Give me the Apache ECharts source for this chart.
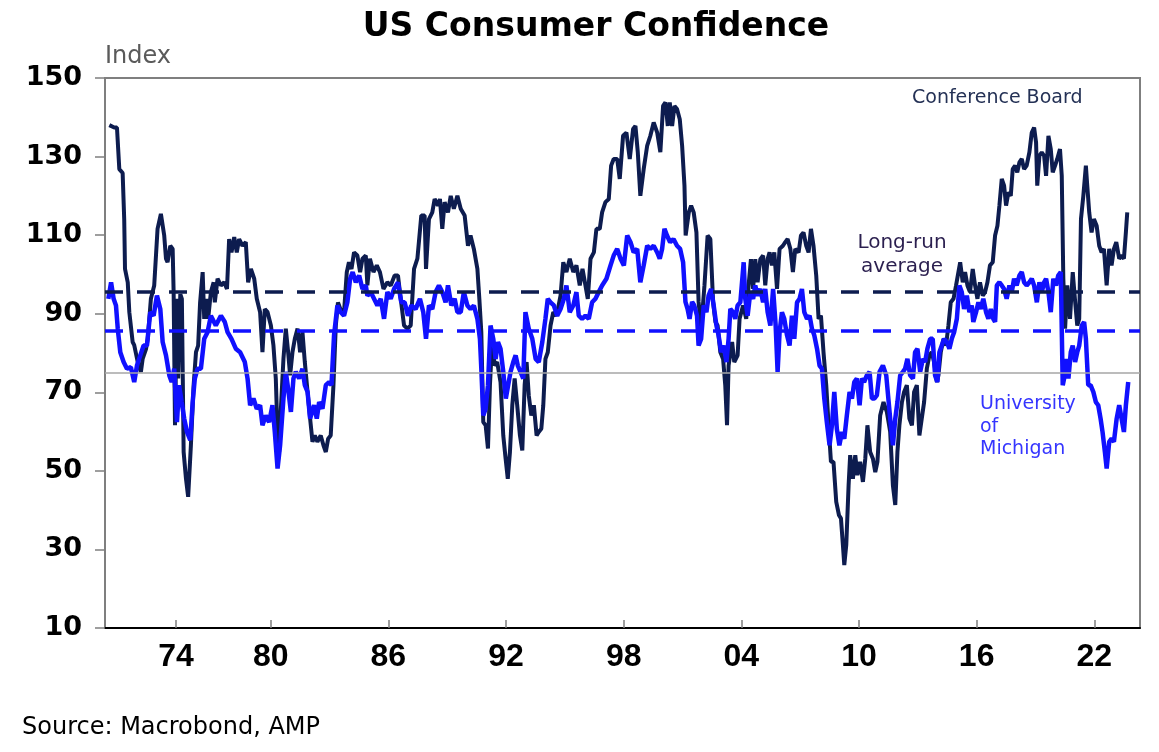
<!DOCTYPE html>
<html>
<head>
<meta charset="utf-8">
<title>US Consumer Confidence</title>
<script src="https://cdn.jsdelivr.net/npm/echarts@6/dist/echarts.min.js"></script>
<style>
  html, body { margin: 0; padding: 0; background: #fff; }
  #chart { width: 1159px; height: 752px; }
</style>
</head>
<body>
<div id="chart"></div>
<script>
// Conference Board index (decimal year, index)
var cbYears = [
  1971.77,1972.02,1972.16,1972.28,1972.45,1972.53,1972.57,1972.71,1972.79,1972.96,
  1973.04,1973.22,1973.38,1973.47,1973.64,1973.73,1973.89,1974.06,1974.23,1974.40,
  1974.57,1974.66,1974.74,1974.88,1975.00,1975.05,1975.12,1975.22,1975.28,1975.39,
  1975.47,1975.56,1975.68,1975.79,1975.93,1976.07,1976.19,1976.30,1976.40,1976.53,
  1976.61,1976.75,1976.81,1976.95,1977.09,1977.15,1977.29,1977.46,1977.63,1977.77,
  1977.88,1978.00,1978.14,1978.27,1978.39,1978.56,1978.73,1978.85,1978.99,1979.16,
  1979.29,1979.46,1979.58,1979.70,1979.84,1980.01,1980.14,1980.26,1980.35,1980.43,
  1980.52,1980.65,1980.77,1980.89,1980.99,1981.11,1981.23,1981.37,1981.50,1981.62,
  1981.74,1981.88,1982.01,1982.13,1982.25,1982.38,1982.55,1982.69,1982.81,1982.93,
  1983.06,1983.20,1983.32,1983.43,1983.61,1983.74,1983.88,1983.99,1984.12,1984.25,
  1984.42,1984.56,1984.68,1984.85,1984.93,1985.06,1985.24,1985.41,1985.57,1985.75,
  1985.95,1986.12,1986.32,1986.49,1986.63,1986.80,1986.97,1987.14,1987.31,1987.48,
  1987.68,1987.85,1987.92,1988.07,1988.24,1988.36,1988.53,1988.63,1988.75,1988.87,
  1989.04,1989.18,1989.34,1989.52,1989.69,1989.89,1990.06,1990.19,1990.36,1990.54,
  1990.64,1990.74,1990.84,1990.96,1991.08,1991.18,1991.30,1991.42,1991.55,1991.72,
  1991.86,1991.98,1992.09,1992.20,1992.32,1992.44,1992.57,1992.71,1992.83,1992.95,
  1993.05,1993.16,1993.29,1993.42,1993.56,1993.67,1993.80,1993.90,1994.01,1994.13,
  1994.27,1994.41,1994.58,1994.78,1994.92,1995.08,1995.25,1995.43,1995.59,1995.76,
  1995.90,1996.05,1996.17,1996.31,1996.48,1996.61,1996.78,1996.90,1997.07,1997.24,
  1997.36,1997.49,1997.67,1997.80,1997.97,1998.14,1998.31,1998.48,1998.60,1998.72,
  1998.85,1999.02,1999.20,1999.36,1999.53,1999.71,1999.87,2000.01,2000.13,2000.25,
  2000.35,2000.47,2000.59,2000.72,2000.86,2000.98,2001.10,2001.16,2001.32,2001.44,
  2001.57,2001.71,2001.82,2001.95,2002.12,2002.28,2002.42,2002.56,2002.68,2002.79,
  2002.93,2003.07,2003.18,2003.27,2003.35,2003.53,2003.64,2003.81,2003.91,2004.09,
  2004.25,2004.37,2004.49,2004.60,2004.71,2004.83,2004.97,2005.11,2005.22,2005.34,
  2005.44,2005.56,2005.68,2005.82,2005.95,2006.12,2006.24,2006.36,2006.50,2006.63,
  2006.75,2006.92,2007.04,2007.17,2007.31,2007.43,2007.55,2007.68,2007.82,2007.94,
  2008.06,2008.19,2008.33,2008.45,2008.57,2008.70,2008.84,2008.98,2009.08,2009.18,
  2009.25,2009.35,2009.47,2009.55,2009.69,2009.81,2009.92,2010.06,2010.20,2010.32,
  2010.43,2010.57,2010.71,2010.83,2010.94,2011.08,2011.25,2011.42,2011.59,2011.73,
  2011.85,2011.96,2012.06,2012.19,2012.30,2012.44,2012.57,2012.70,2012.81,2012.95,
  2013.08,2013.20,2013.32,2013.46,2013.59,2013.71,2013.83,2013.97,2014.05,2014.17,
  2014.31,2014.44,2014.56,2014.68,2014.82,2014.95,2015.07,2015.16,2015.29,2015.41,
  2015.53,2015.66,2015.80,2015.92,2016.04,2016.17,2016.31,2016.43,2016.55,2016.68,
  2016.82,2016.94,2017.06,2017.16,2017.28,2017.40,2017.50,2017.62,2017.74,2017.84,
  2017.96,2018.07,2018.18,2018.30,2018.42,2018.55,2018.69,2018.81,2018.93,2019.03,
  2019.09,2019.20,2019.32,2019.44,2019.54,2019.66,2019.78,2019.88,2020.00,2020.11,
  2020.25,2020.34,2020.42,2020.51,2020.62,2020.76,2020.90,2021.01,2021.13,2021.23,
  2021.32,2021.44,2021.57,2021.64,2021.74,2021.86,2021.98,2022.12,2022.25,2022.37,
  2022.49,2022.63,2022.76,2022.88,2023.00,2023.12,2023.27,2023.39,2023.51,2023.61,
  2023.68
];
var cbValues = [
  138,137.4,137.4,126.8,125.8,114,101.4,98,90.4,82.8,
  82,77.7,75.2,78.5,81,83.6,93.8,97.2,111.6,115.4,
  109.9,104,103.1,107.3,106.5,95.5,61.6,93.8,73.5,95,
  93.8,54.8,48,43.4,56.5,71.8,80.2,81.9,92.9,100.6,
  88.7,93.8,88.7,95.5,98,92.9,98.9,97.2,98,96.3,
  109,105.6,109.5,105.6,109,107.3,108.2,98,101.4,98.9,
  93.8,90.4,80.2,91.2,90.4,87,81.9,73.5,59,54.8,
  65.8,78.5,86.2,80.2,74.3,80.2,83.6,86.2,80.2,85.3,
  77.7,70.1,63.3,57.4,59,57.4,59,56.5,54.8,58.2,
  59,71.8,87,92.9,90.4,90.4,100.6,103.1,101.4,105.6,
  104.8,100.6,104,104.8,97.2,104,100.6,102.3,100.6,96.3,
  98,97.2,99.7,99.7,93.8,87,86.2,87,101.4,104,
  115,115,101.4,114.1,115.8,119.2,117.5,119.2,111.6,118.4,
  115.8,120,116.7,120,116.7,115,107.3,109.9,106.5,101.4,
  93.8,85.3,62.4,61.6,55.7,71.8,83.6,76.8,77.7,72.6,
  59,53.1,48,54.8,66.7,73.5,66.7,59,55.2,71.8,
  77.7,69.2,64.1,66.7,59,59.9,60.7,66.7,78.5,80.2,
  87,90.4,89.5,94.6,103.1,100.6,104,100.6,102.3,97.2,
  101.4,97.2,93.8,104,105.6,111.6,111.6,115.8,118.4,119.2,
  127.7,129.4,129.4,124.3,135.3,136.1,129.4,137,137.8,131.1,
  120,126.8,132.8,135.3,138.7,136.1,131.1,142.9,143.8,137.8,
  143.8,137.8,142.9,142.1,139.5,132.8,122.6,109.9,115.8,117.5,
  115.8,110.7,93,86.2,97.2,109.9,109,93,87.9,87,
  80.2,78.5,71.8,61.6,76.8,82.8,77.7,79.4,88.7,92.1,
  88.7,97.2,103.9,96.3,103.9,98,103.9,104.8,97.2,103.9,
  105.6,102.3,105.6,96.3,106.5,107.3,108.2,109,106.5,100.6,
  106.5,105.6,109.9,110.7,107.3,105.6,111.6,107.3,99.7,88.7,
  89.5,80.2,71.8,61.6,52.3,52.3,42.1,38.7,37.9,31.1,
  26,31.1,46.3,54,48,54,48.9,52.3,47.2,53.1,
  61.6,54.8,53.1,49.7,52.3,64.1,67.5,65,60,46.3,
  41.3,54.8,61.6,67.5,70.1,71.8,63.3,61.6,70.1,71.8,
  59,63.3,67.5,76,79.4,80.2,77.7,72.6,74.3,80.2,
  83.6,81.9,87,92.9,93.8,97.2,100.6,103.1,98,100.6,
  97.2,95.5,101.4,97.2,93.8,98,94.6,95.5,98,102.3,
  103.1,109.9,112.4,117.5,124.3,122.6,117.5,120.9,120,126.8,
  127.7,126,128.5,129.4,126.8,127.7,131.1,136.1,137.4,133.6,
  122.6,130.2,131.1,130.2,125.1,135.3,131.9,126,127.7,129.4,
  131.9,125.1,98.9,86.2,97.2,88.7,100.6,93.8,87,88.7,
  114.1,120,127.7,122.6,115.8,110.7,114.1,112.4,107.3,105.6,
  106.5,97.2,106.5,102.3,106.5,108.2,104,104.8,104,110.7,
  115.8
];

// University of Michigan sentiment
var umYears = [
  1971.72,1971.86,1971.99,1972.11,1972.20,1972.33,1972.50,1972.67,1972.87,1973.04,
  1973.18,1973.35,1973.52,1973.69,1973.86,1974.03,1974.20,1974.37,1974.49,1974.66,
  1974.83,1974.95,1975.08,1975.22,1975.33,1975.46,1975.59,1975.73,1975.90,1976.02,
  1976.13,1976.27,1976.44,1976.61,1976.78,1976.95,1977.20,1977.46,1977.66,1977.80,
  1978.00,1978.22,1978.44,1978.68,1978.82,1978.95,1979.12,1979.29,1979.46,1979.58,
  1979.75,1979.92,1980.09,1980.21,1980.35,1980.48,1980.65,1980.77,1980.89,1981.03,
  1981.16,1981.28,1981.45,1981.62,1981.74,1981.88,1982.01,1982.21,1982.35,1982.47,
  1982.64,1982.81,1982.98,1983.10,1983.23,1983.40,1983.57,1983.74,1983.91,1984.05,
  1984.18,1984.34,1984.51,1984.68,1984.85,1984.93,1985.10,1985.27,1985.44,1985.61,
  1985.78,1985.95,1986.12,1986.29,1986.49,1986.66,1986.83,1987.00,1987.17,1987.39,
  1987.61,1987.78,1987.92,1988.07,1988.24,1988.41,1988.58,1988.75,1988.92,1989.04,
  1989.21,1989.38,1989.52,1989.69,1989.85,1990.03,1990.19,1990.36,1990.54,1990.67,
  1990.74,1990.84,1990.96,1991.08,1991.21,1991.35,1991.47,1991.59,1991.72,1991.86,
  1991.99,1992.09,1992.23,1992.37,1992.49,1992.60,1992.74,1992.88,1992.99,1993.16,
  1993.34,1993.51,1993.67,1993.85,1994.01,1994.13,1994.27,1994.44,1994.61,1994.78,
  1994.95,1995.08,1995.25,1995.43,1995.59,1995.71,1995.88,1996.05,1996.22,1996.39,
  1996.56,1996.73,1996.90,1997.12,1997.33,1997.49,1997.67,1997.84,1998.01,1998.18,
  1998.35,1998.51,1998.69,1998.85,1999.02,1999.20,1999.36,1999.53,1999.71,1999.84,
  1999.96,2000.08,2000.21,2000.37,2000.54,2000.72,2000.88,2001.03,2001.15,2001.26,
  2001.36,2001.49,2001.60,2001.74,2001.82,2001.95,2002.08,2002.22,2002.33,2002.46,
  2002.59,2002.73,2002.84,2002.97,2003.10,2003.24,2003.35,2003.44,2003.58,2003.69,
  2003.81,2003.95,2004.12,2004.20,2004.32,2004.46,2004.60,2004.71,2004.83,2004.97,
  2005.11,2005.22,2005.34,2005.48,2005.62,2005.75,2005.85,2005.95,2006.07,2006.19,
  2006.33,2006.46,2006.58,2006.70,2006.84,2006.97,2007.09,2007.21,2007.35,2007.48,
  2007.60,2007.72,2007.86,2007.99,2008.11,2008.23,2008.36,2008.50,2008.62,2008.74,
  2008.87,2009.00,2009.13,2009.25,2009.38,2009.52,2009.64,2009.76,2009.89,2010.03,
  2010.15,2010.26,2010.40,2010.54,2010.66,2010.78,2010.91,2011.05,2011.22,2011.39,
  2011.59,2011.73,2011.85,2011.96,2012.10,2012.24,2012.35,2012.47,2012.61,2012.75,
  2012.86,2012.98,2013.12,2013.26,2013.37,2013.49,2013.63,2013.76,2013.88,2014.00,
  2014.10,2014.22,2014.34,2014.48,2014.61,2014.73,2014.85,2014.99,2015.12,2015.24,
  2015.36,2015.50,2015.63,2015.75,2015.83,2015.97,2016.09,2016.21,2016.34,2016.48,
  2016.60,2016.72,2016.85,2016.94,2017.03,2017.16,2017.28,2017.40,2017.53,2017.67,
  2017.79,2017.91,2018.04,2018.18,2018.30,2018.42,2018.55,2018.69,2018.81,2018.93,
  2019.07,2019.20,2019.32,2019.44,2019.54,2019.66,2019.78,2019.91,2020.05,2020.16,
  2020.29,2020.39,2020.46,2020.56,2020.68,2020.80,2020.90,2021.02,2021.13,2021.23,
  2021.36,2021.48,2021.57,2021.69,2021.81,2021.95,2022.08,2022.20,2022.32,2022.42,
  2022.54,2022.63,2022.76,2022.88,2023.00,2023.14,2023.27,2023.39,2023.51,2023.61,
  2023.73
];
var umValues = [
  93.8,98,93.8,92.1,86.2,80.2,77.7,76,76.4,72.6,
  76.8,79.4,81.9,81.9,90.4,89.5,94.6,91.2,82.8,79.4,
  74.3,72.6,76,62.4,71.8,67.5,63.3,59.9,57.8,67.5,
  73.5,76,76,83.6,85.3,89.5,87,89.5,87.9,85.3,
  83.6,81.1,80.2,77.7,73.5,66.7,68.4,65.8,66.7,61.6,
  64.1,62.4,66.7,59.9,50.6,56.5,68.4,75.2,70.9,65,
  73.5,75.2,73.5,76,71.8,70.1,63.3,66.7,63.3,67.5,
  65.8,71.8,72.6,71.8,84.5,92.1,90.4,89.5,92.9,98.9,
  100.6,98,99.7,96.3,97.2,94.6,95.5,93.8,92.1,93.8,
  88.7,95.5,93.8,96.3,98,92.9,92.9,89.5,92.1,91.2,
  93.8,90.4,83.6,92.1,91.2,95.5,97.2,95.5,92.9,97.2,
  92.1,93.8,90.4,90.4,95.5,92.1,91.2,92.1,88.7,83.6,
  76,64.1,65.8,71.8,87,83.6,78.5,82.8,81.1,75.2,
  68.4,68.4,75.2,77.7,79.4,76.8,75.2,73.5,90.4,86.2,
  83.6,78.5,77.7,82.8,88.7,93.8,92.9,92.1,89.5,91.2,
  93.8,97.2,90.4,92.1,95.5,89.5,88.7,89.5,88.7,92.9,
  93.8,95.5,97.2,98.9,102.3,104.8,106.5,104,102.3,109.9,
  108.2,105.6,106.5,98,102.3,107.3,106.5,107.3,105.6,104,
  106.5,111.6,109.9,108.2,109,107.3,106.5,103.1,93,91.2,
  88.7,93,92.1,89.5,81.9,83.6,92.1,90.4,94.6,96.3,
  92.1,87,84.5,80.2,81.9,77.7,83.6,91.2,90.4,88.7,
  92.1,92.9,103.1,93.8,89.5,95.5,93.8,97.2,94.6,96.3,
  92.9,96.3,90.4,87,96.3,87,75.2,85.3,90.4,88.7,
  84.5,81.9,89.5,83.6,92.9,93.8,96.3,90.4,88.7,89.5,
  86.2,84.5,81.1,76.8,76,68.4,62.4,56.5,61.6,70.1,
  60.7,56.5,59.9,58.2,64.1,70.1,68.4,72.6,73.5,66.7,
  73.5,72.6,74.3,75.2,68.4,68.4,69.2,75.2,76.8,74.3,
  63.3,56.5,63.3,67.5,74.3,75.2,76,78.5,74.3,73.5,
  80.2,81.1,75.2,78.5,77.7,81.1,83.6,83.6,74.3,72.6,
  80.2,81.9,83.6,82.8,81.1,83.6,85.3,88.7,97.2,95.5,
  91.2,94.6,90.4,92.1,87.9,90.4,92.9,91.2,93.8,90.4,
  88.7,91.2,88.7,87.9,97.2,98,97.2,96.3,93.8,97.2,
  95.5,98.9,97.2,99.7,100.6,98,97.2,98,98.9,97.2,
  92.9,98,95.5,98,98.9,95.5,90.4,98.9,97.2,99.7,
  100.6,71.8,73.5,78.5,73.5,80.2,81.9,77.7,80.2,81.9,
  87,87.9,83.6,71.8,71.8,70.1,67.5,66.7,63.3,59.9,
  54.8,50.6,57.4,58.2,57.4,63.3,66.7,63.3,59.9,66.7,
  72.6
];

// long-run averages and the thin reference line
var cbAverage = 95.6;
var umAverage = 85.7;
var refLine = 75;

// axis ticks as they sit on the original chart
var tickPos = [1975.17, 1980, 1986, 1992, 1998, 2004, 2010, 2016, 2022];
var tickLabels = ['74', '80', '86', '92', '98', '04', '10', '16', '22'];
var yMin = 10, yMax = 150, yStep = 20;

function pairs(xs, ys) {
  var out = [];
  for (var i = 0; i < xs.length; i++) out.push([xs[i], ys[i]]);
  return out;
}

function label(x, y, text, font, fill, align) {
  return {
    type: 'text', x: x, y: y, silent: true,
    style: {
      text: text, font: font, fill: fill,
      align: align || 'left', verticalAlign: 'middle',
      textAlign: align || 'left', textVerticalAlign: 'middle'
    }
  };
}

var navy = '#0d1c4f';
var blue = '#1010ff';
var chart = echarts.init(document.getElementById('chart'));

chart.setOption({
  backgroundColor: '#fff',
  animation: false,
  grid: {
    left: 105, right: 19, top: 78, bottom: 124,
    show: true, borderColor: '#7f7f7f', borderWidth: 2
  },
  xAxis: {
    type: 'value',
    min: 1971.55, max: 2024.33,
    axisLine: { show: true, lineStyle: { color: '#000', width: 2 } },
    axisTick: { show: true, inside: true, length: 8, customValues: tickPos,
      lineStyle: { color: '#7f7f7f', width: 1.5 } },
    axisLabel: {
      customValues: tickPos, margin: 13,
      color: '#000', fontFamily: 'Liberation Sans', fontWeight: 'bold', fontSize: 32,
      formatter: function (v) {
        var best = 0;
        for (var i = 1; i < tickPos.length; i++) {
          if (Math.abs(tickPos[i] - v) < Math.abs(tickPos[best] - v)) best = i;
        }
        return tickLabels[best];
      }
    },
    splitLine: { show: false }
  },
  yAxis: {
    type: 'value',
    min: yMin, max: yMax, interval: yStep,
    axisLine: { show: true, lineStyle: { color: '#7f7f7f', width: 2 } },
    axisTick: { show: true, length: 10, lineStyle: { color: '#7f7f7f', width: 1.5 } },
    axisLabel: {
      margin: 23, color: '#000',
      fontFamily: 'DejaVu Sans', fontWeight: 'bold', fontSize: 27
    },
    splitLine: { show: false }
  },
  series: [
    {
      name: 'Conference Board',
      type: 'line',
      data: pairs(cbYears, cbValues),
      showSymbol: false,
      lineStyle: { color: navy, width: 4 },
      z: 2,
      markLine: {
        silent: true, symbol: 'none', label: { show: false },
        data: [
          { yAxis: cbAverage, lineStyle: { color: navy, width: 3.5, type: [18, 14] } },
          { yAxis: umAverage, lineStyle: { color: blue, width: 3.5, type: [18, 14] } },
          { yAxis: refLine, lineStyle: { color: '#a6a6a6', width: 1.5, type: 'solid' } }
        ]
      }
    },
    {
      name: 'University of Michigan',
      type: 'line',
      data: pairs(umYears, umValues),
      showSymbol: false,
      lineStyle: { color: blue, width: 4.5 },
      z: 3
    }
  ],
  graphic: [
    label(596, 27, 'US Consumer Confidence', 'bold 33px "DejaVu Sans"', '#000', 'center'),
    label(105, 57, 'Index', '24px "DejaVu Sans"', '#5a5a5a'),
    label(912, 98, 'Conference Board', '19px "DejaVu Sans"', '#243155'),
    label(902, 243, 'Long-run', '20px "DejaVu Sans"', '#2b1f4f', 'center'),
    label(902, 267, 'average', '20px "DejaVu Sans"', '#2b1f4f', 'center'),
    label(980, 404, 'University', '19px "DejaVu Sans"', '#3535ff'),
    label(980, 427, 'of', '19px "DejaVu Sans"', '#3535ff'),
    label(980, 449, 'Michigan', '19px "DejaVu Sans"', '#3535ff'),
    label(22, 728, 'Source: Macrobond, AMP', '24px "DejaVu Sans"', '#000')
  ]
});
</script>
</body>
</html>
